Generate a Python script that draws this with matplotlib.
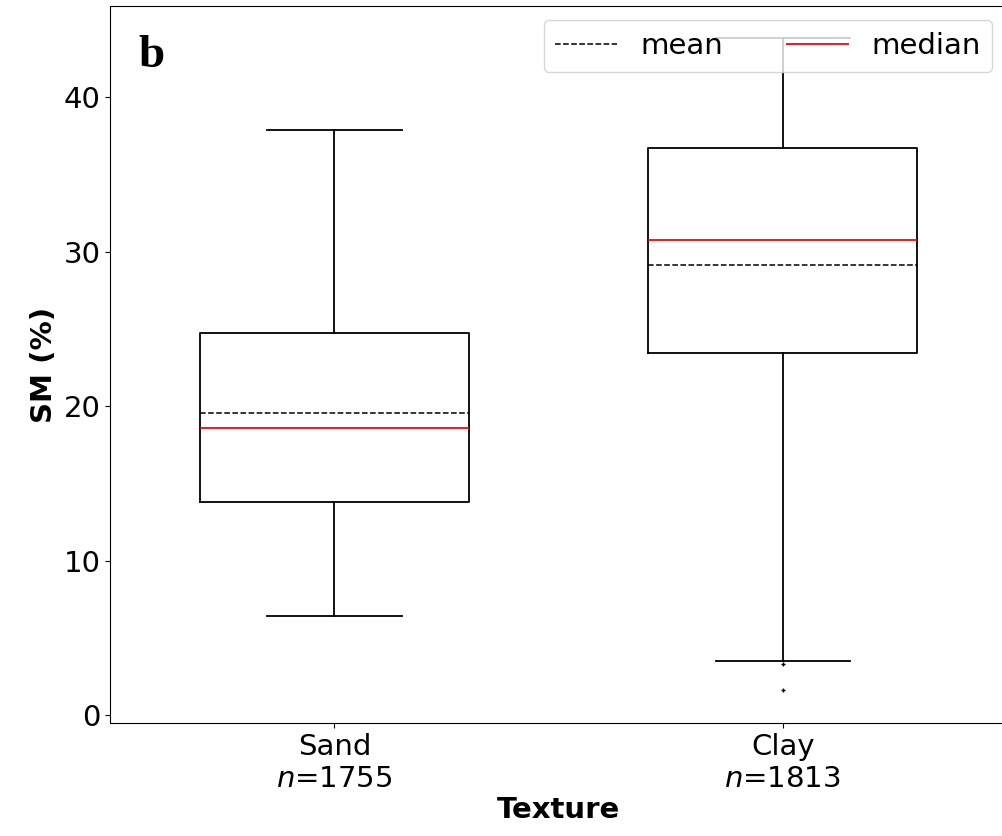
import matplotlib
matplotlib.use("Agg")
import matplotlib.pyplot as plt
from matplotlib.lines import Line2D

# values (SM in %)
textures = ["Sand", "Clay"]
counts = [1755, 1813]
q1 = [13.8, 23.45]
median = [18.6, 30.75]
q3 = [24.75, 36.7]
mean = [19.55, 29.15]
whis_lo = [6.4, 3.55]
whis_hi = [37.85, 43.8]
fliers = [[], [3.35, 1.65]]

FS = 21

stats = []
for i, name in enumerate(textures):
    stats.append({
        "label": f"{name}\n$n$={counts[i]}",
        "q1": q1[i], "med": median[i], "q3": q3[i], "mean": mean[i],
        "whislo": whis_lo[i], "whishi": whis_hi[i], "fliers": fliers[i],
    })

fig = plt.figure(figsize=(10.02, 8.36), dpi=100)
ax = fig.add_axes([0.11, 0.135, 0.895, 0.858])

ax.bxp(
    stats,
    widths=0.6,
    showmeans=True,
    meanline=True,
    boxprops=dict(color="black", linewidth=1.3),
    whiskerprops=dict(color="black", linewidth=1.3),
    capprops=dict(color="black", linewidth=1.3),
    medianprops=dict(color="red", linewidth=1.3),
    meanprops=dict(color="black", linestyle="--", linewidth=1.1),
    flierprops=dict(marker="+", markersize=3, markeredgecolor="black"),
)

ax.set_ylim(-0.5, 45.9)
ax.set_xlim(0.5, 2.5)
ax.tick_params(labelsize=FS)
ax.set_ylabel("SM (%)", fontsize=FS, fontweight="bold")
ax.set_xlabel("Texture", fontsize=FS, fontweight="bold", labelpad=2)

# panel letter
ax.text(0.032, 0.93, "b", transform=ax.transAxes, fontsize=34,
        fontweight="bold", family="Liberation Serif", va="center")

handles = [
    Line2D([], [], color="black", linestyle="--", linewidth=1.1),
    Line2D([], [], color="red", linewidth=1.3),
]
ax.legend(handles, ["mean", "median"], loc="upper right", ncol=2, fontsize=FS,
          handlelength=2.1, columnspacing=2.2, borderpad=0.4)

fig.savefig("out.png", dpi=100)
